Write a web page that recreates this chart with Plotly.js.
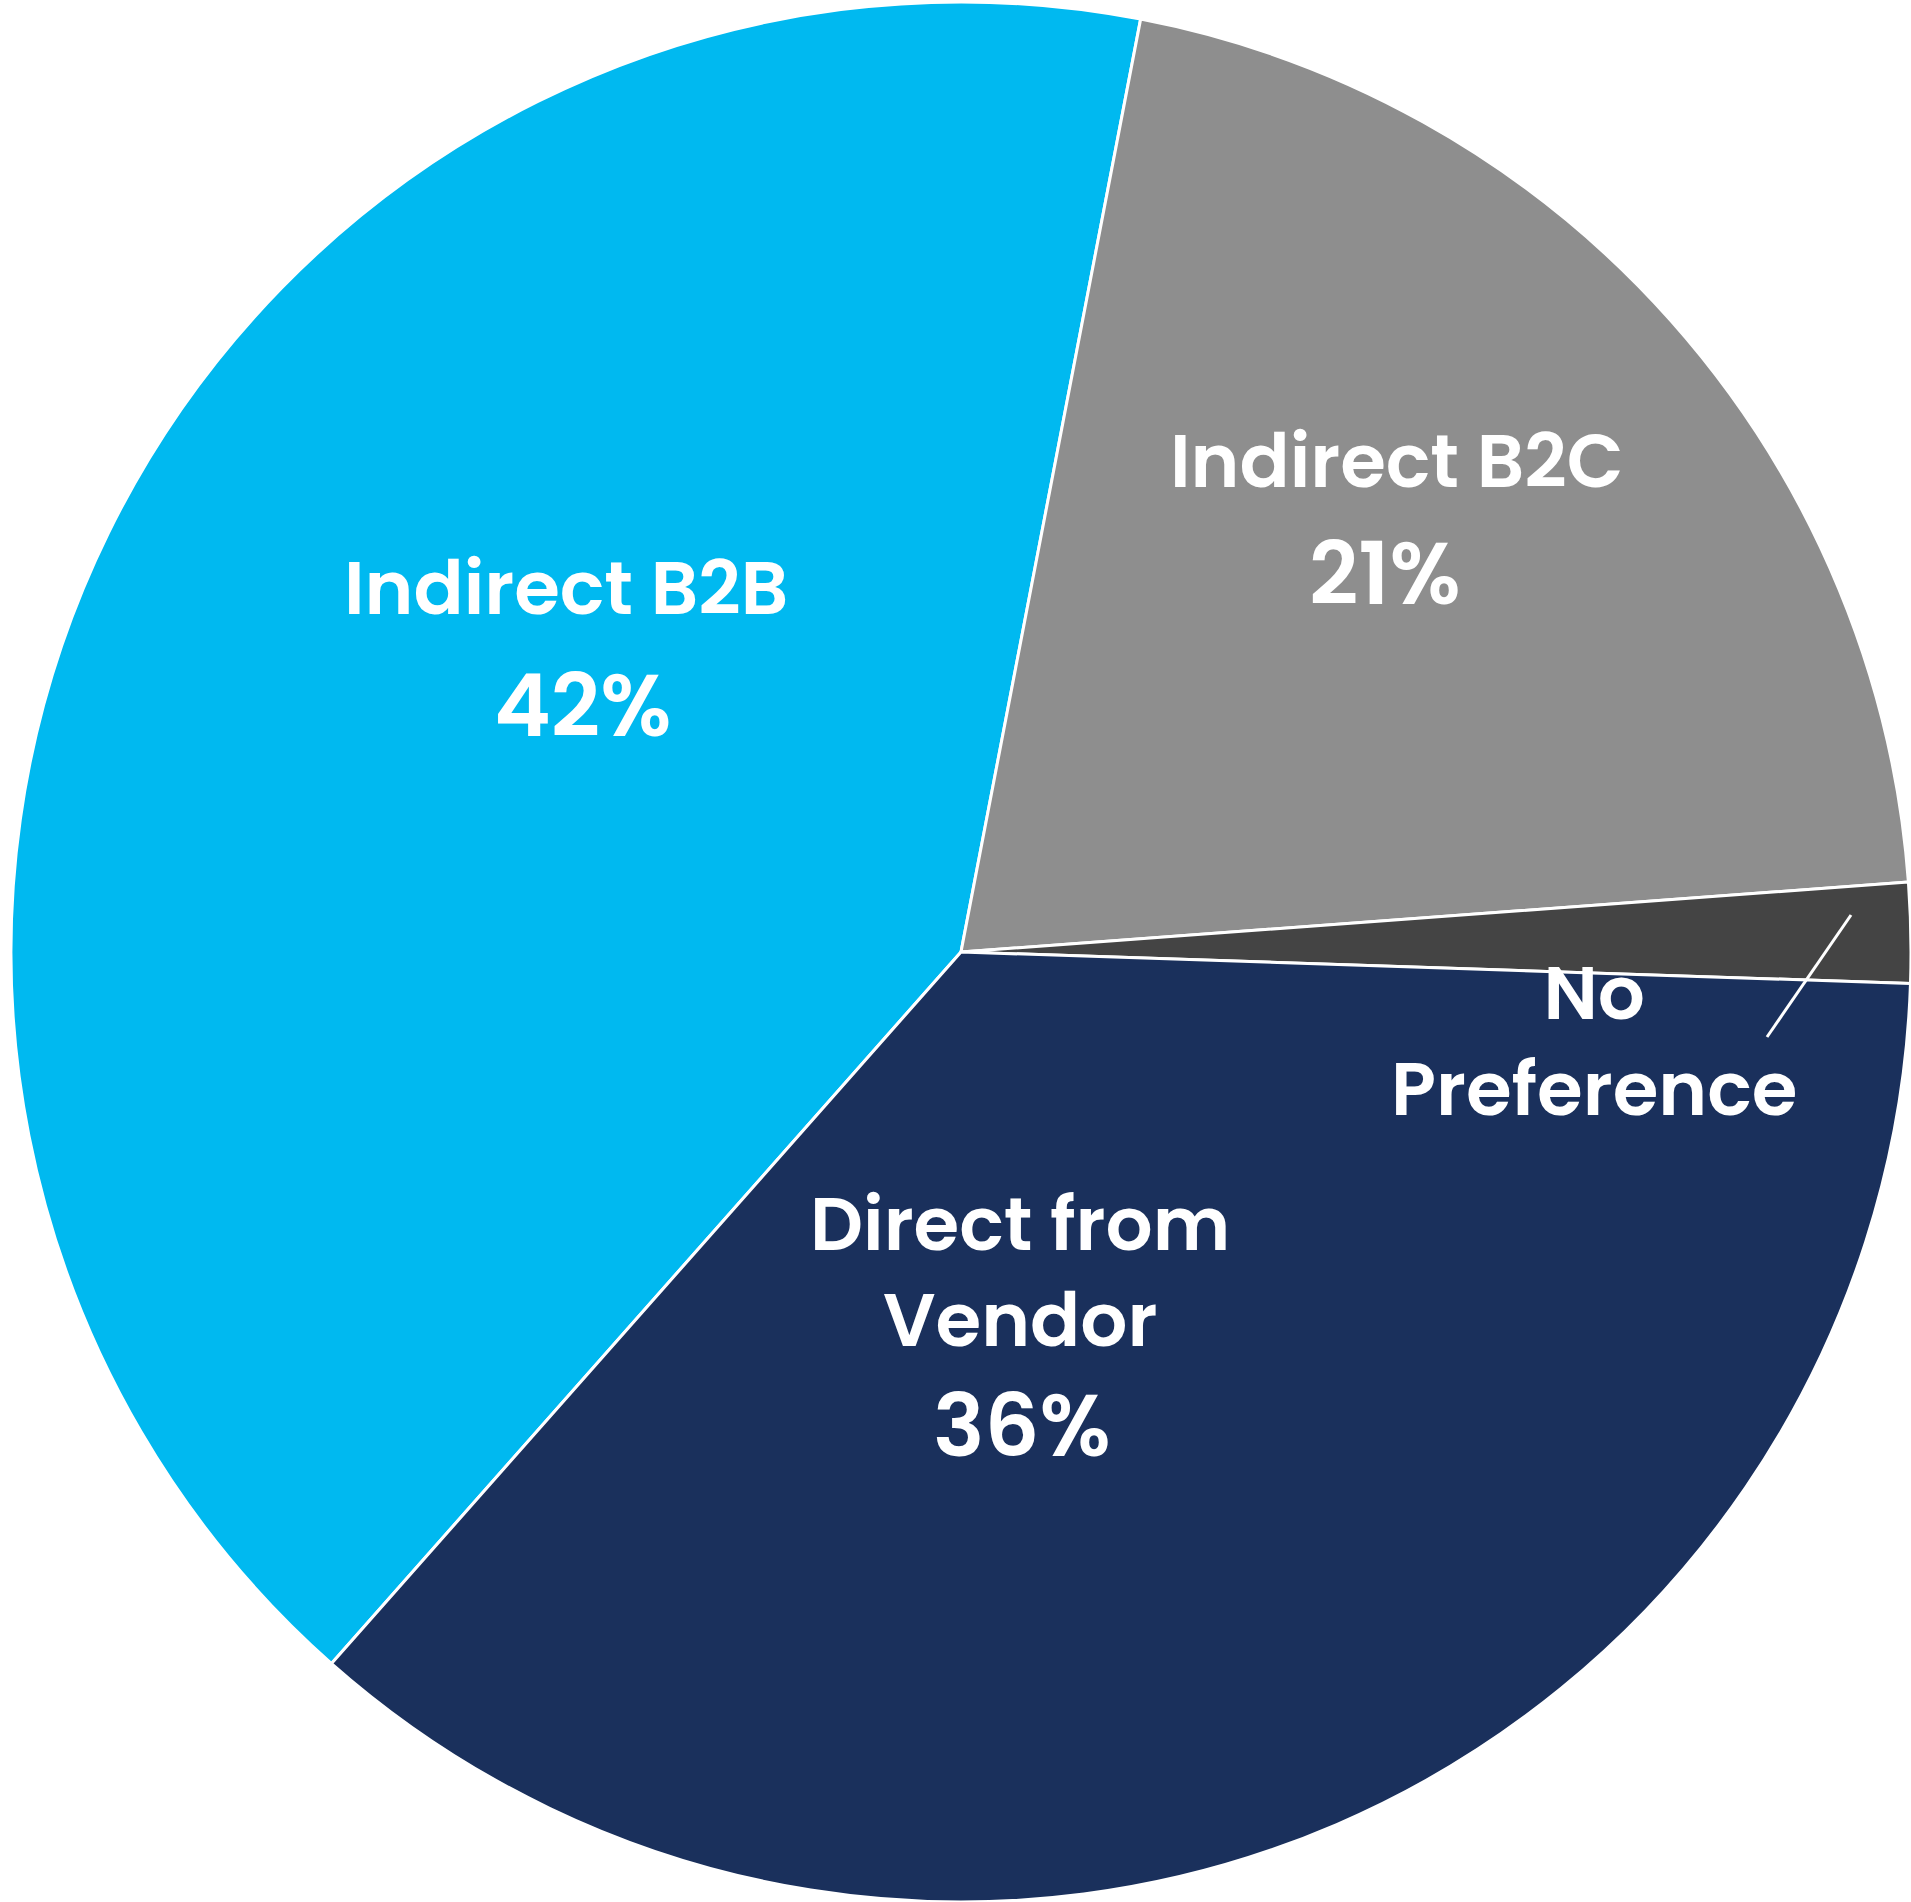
<!DOCTYPE html>
<html>
<head>
<meta charset="utf-8">
<script src="https://cdn.plot.ly/plotly-3.0.1.min.js"></script>
<style>html,body{margin:0;padding:0;background:#fff;}#chart{width:1911px;height:1902px;}</style>
</head>
<body>
<div id="chart"></div>
<script>
// ---- data ----
const categories = ["Indirect B2B", "Indirect B2C", "No Preference", "Direct from Vendor"];
const shareValues = [41.5, 20.8, 1.7, 36.0];
const shownPercent = ["42%", "21%", null, "36%"];
const labelLines = ["Indirect B2B", "Indirect B2C", "No<br>Preference", "Direct from<br>Vendor"];

// ---- styles ----
const sliceColors = ["#00B9F0", "#8E8E8E", "#444444", "#1A305C"];
const W = 1911, H = 1902;
const FONT = "Poppins, 'Open Sans', sans-serif";
const LABEL_SIZE = 74, PCT_SIZE = 86;
// label placement (pixel centres) per category
const labelPos = [[566, 588], [1397, 461], [1594, 1041], [1020, 1272]];
const pctPos = [[583, 706], [1385, 574], null, [1022, 1426]];

const px = x => x / W;
const py = y => 1 - y / H;

const annotations = [];
categories.forEach((c, i) => {
  annotations.push({
    xref: "paper", yref: "paper", x: px(labelPos[i][0]), y: py(labelPos[i][1]),
    xanchor: "center", yanchor: "middle", showarrow: false,
    text: labelLines[i], align: "center",
    font: {family: FONT, size: LABEL_SIZE, color: "#ffffff", weight: 600}
  });
  if (shownPercent[i]) {
    annotations.push({
      xref: "paper", yref: "paper", x: px(pctPos[i][0]), y: py(pctPos[i][1]),
      xanchor: "center", yanchor: "middle", showarrow: false,
      text: shownPercent[i],
      font: {family: FONT, size: PCT_SIZE, color: "#ffffff", weight: 600}
    });
  }
});

const trace = {
  type: "pie",
  labels: categories,
  values: shareValues,
  sort: false,
  direction: "clockwise",
  rotation: 221.5,
  marker: {colors: sliceColors, line: {color: "#ffffff", width: 3}},
  textinfo: "none",
  hoverinfo: "label+percent",
  showlegend: false,
  domain: {x: [11 / W, 1], y: [0, 1900 / H]}
};

const layout = {
  width: W, height: H,
  margin: {l: 0, r: 0, t: 0, b: 0, pad: 0},
  paper_bgcolor: "#ffffff",
  showlegend: false,
  annotations: annotations,
  shapes: [{
    type: "line", xref: "paper", yref: "paper",
    x0: px(1851), y0: py(915), x1: px(1767), y1: py(1037),
    line: {color: "#ffffff", width: 3}
  }]
};

Plotly.newPlot("chart", [trace], layout, {displayModeBar: false, staticPlot: true});
</script>
</body>
</html>
